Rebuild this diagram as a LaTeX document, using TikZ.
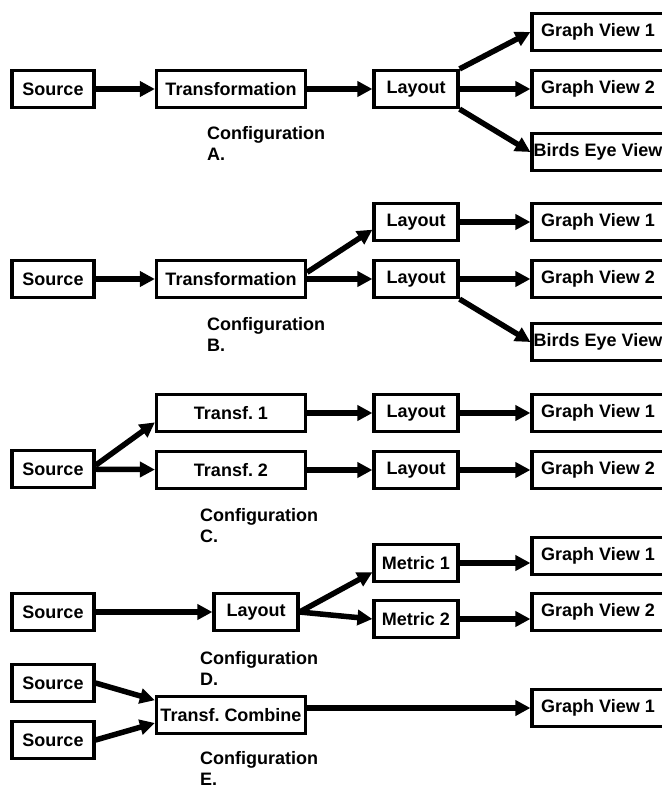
\documentclass[tikz,border=0pt]{standalone}
\usepackage{fontspec}
\setmainfont{Liberation Sans}
\usetikzlibrary{arrows.meta}
\frenchspacing

\begin{document}
\begin{tikzpicture}[
    x=1pt, y=-1pt,
    every node/.style={font=\bfseries\fontsize{18}{21.5}\selectfont},
    box/.style={draw, line width=3.2pt, minimum height=37pt, inner sep=0pt},
    source box/.style={box, minimum width=82pt},
    transf box/.style={box, minimum width=149pt},
    layout box/.style={box, minimum width=84pt},
    view box/.style={box, minimum width=132pt},
    bold arrow/.style={draw, line width=5.5pt, -{Triangle[length=15pt,width=15pt]}},
    caption/.style={anchor=north west, align=left, inner sep=0pt},
    ]
\useasboundingbox (0,0) rectangle (661,789);
% configuration A
\node[source box] (SourceA) at (53,89) {Source};
\node[transf box] (TransformationA) at (231,89) {Transformation};
\node[layout box] (LayoutA) at (416,89) {Layout};
\node[view box] (GraphViewOneA) at (598,32) {Graph View 1};
\node[view box] (GraphViewTwoA) at (598,89) {Graph View 2};
\node[view box] (BirdsEyeA) at (598,152) {\makebox[0pt]{Birds Eye View}};
\draw[bold arrow] (SourceA) -- (TransformationA);
\draw[bold arrow] (TransformationA) -- (LayoutA);
\draw[bold arrow] (LayoutA.north east) -- (GraphViewOneA.west);
\draw[bold arrow] (LayoutA) -- (GraphViewTwoA);
\draw[bold arrow] (LayoutA.south east) -- (BirdsEyeA.west);
\node[caption] (ConfigA) at (207,126) {Configuration\\A.};
% configuration B
\node[source box] (SourceB) at (53,279) {Source};
\node[transf box] (TransformationB) at (231,279) {Transformation};
\node[layout box] (LayoutOneB) at (416,222) {Layout};
\node[layout box] (LayoutTwoB) at (416,279) {Layout};
\node[view box] (GraphViewOneB) at (598,222) {Graph View 1};
\node[view box] (GraphViewTwoB) at (598,279) {Graph View 2};
\node[view box] (BirdsEyeB) at (598,342) {\makebox[0pt]{Birds Eye View}};
\draw[bold arrow] (SourceB) -- (TransformationB);
\draw[bold arrow] (TransformationB.5) -- (LayoutOneB.190);
\draw[bold arrow] (TransformationB) -- (LayoutTwoB);
\draw[bold arrow] (LayoutOneB) -- (GraphViewOneB);
\draw[bold arrow] (LayoutTwoB) -- (GraphViewTwoB);
\draw[bold arrow] (LayoutTwoB.south east) -- (BirdsEyeB.west);
\node[caption] (ConfigB) at (207,317) {Configuration\\B.};
% configuration C
\node[source box] (SourceC) at (53,469) {Source};
\node[transf box] (TransfOneC) at (231,413) {Transf. 1};
\node[transf box] (TransfTwoC) at (231,470) {Transf. 2};
\node[layout box] (LayoutOneC) at (416,413) {Layout};
\node[layout box] (LayoutTwoC) at (416,470) {Layout};
\node[view box] (GraphViewOneC) at (598,413) {Graph View 1};
\node[view box] (GraphViewTwoC) at (598,470) {Graph View 2};
\draw[bold arrow] (SourceC.5) -- (TransfOneC.187);
\draw[bold arrow] (SourceC) -- (TransfTwoC);
\draw[bold arrow] (TransfOneC) -- (LayoutOneC);
\draw[bold arrow] (TransfTwoC) -- (LayoutTwoC);
\draw[bold arrow] (LayoutOneC) -- (GraphViewOneC);
\draw[bold arrow] (LayoutTwoC) -- (GraphViewTwoC);
\node[caption] (ConfigC) at (200,508) {Configuration\\C.};
% configuration D
\node[source box] (SourceD) at (53,612) {Source};
\node[layout box] (LayoutD) at (256,612) {Layout};
\node[layout box] (MetricOneD) at (416,563) {Metric 1};
\node[layout box] (MetricTwoD) at (416,619) {Metric 2};
\node[view box] (GraphViewOneD) at (598,556) {Graph View 1};
\node[view box] (GraphViewTwoD) at (598,612) {Graph View 2};
\draw[bold arrow] (SourceD) -- (LayoutD);
\draw[bold arrow] (LayoutD.east) -- (MetricOneD.192);
\draw[bold arrow] (LayoutD.east) -- (MetricTwoD.west);
\draw[bold arrow] (MetricOneD.east) -- (MetricOneD.east -| GraphViewOneD.west);
\draw[bold arrow] (MetricTwoD.east) -- (MetricTwoD.east -| GraphViewTwoD.west);
\node[caption] (ConfigD) at (200,651) {Configuration\\D.};
% configuration E
\node[source box] (SourceOneE) at (53,683) {Source};
\node[source box] (SourceTwoE) at (53,740) {Source};
\node[transf box] (CombineE) at (231,715) {Transf. Combine};
\node[view box] (GraphViewE) at (598,708) {Graph View 1};
\draw[bold arrow] (SourceOneE.east) -- (CombineE.169);
\draw[bold arrow] (SourceTwoE.east) -- (CombineE.186);
\draw[bold arrow] (CombineE.east |- GraphViewE.west) -- (GraphViewE.west);
\node[caption] (ConfigE) at (200,751) {Configuration\\E.};
\end{tikzpicture}
\end{document}
